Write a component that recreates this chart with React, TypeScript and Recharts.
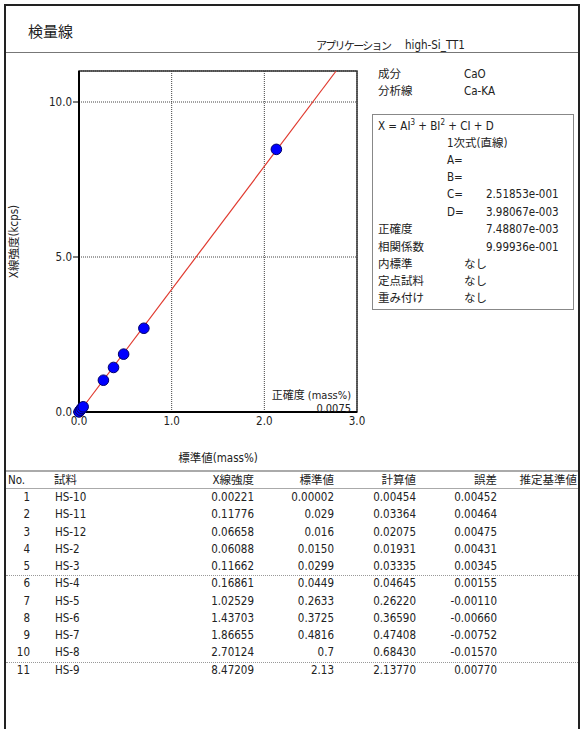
import React from "react";
import {
  ScatterChart,
  Scatter,
  XAxis,
  YAxis,
  CartesianGrid,
  ReferenceLine,
  ReferenceArea,
  Label,
} from "recharts";

// calibration samples (table order)
const sampleNo = ["1", "2", "3", "4", "5", "6", "7", "8", "9", "10", "11"];
const sampleNames = ["HS-10", "HS-11", "HS-12", "HS-2", "HS-3", "HS-4", "HS-5", "HS-6", "HS-7", "HS-8", "HS-9"];
const intensity = [0.00221, 0.11776, 0.06658, 0.06088, 0.11662, 0.16861, 1.02529, 1.43703, 1.86655, 2.70124, 8.47209];
const intensityText = ["0.00221", "0.11776", "0.06658", "0.06088", "0.11662", "0.16861", "1.02529", "1.43703", "1.86655", "2.70124", "8.47209"];
const standard = [0.00002, 0.029, 0.016, 0.015, 0.0299, 0.0449, 0.2633, 0.3725, 0.4816, 0.7, 2.13];
const standardText = ["0.00002", "0.029", "0.016", "0.0150", "0.0299", "0.0449", "0.2633", "0.3725", "0.4816", "0.7", "2.13"];
const calcText = ["0.00454", "0.03364", "0.02075", "0.01931", "0.03335", "0.04645", "0.26220", "0.36590", "0.47408", "0.68430", "2.13770"];
const errorText = ["0.00452", "0.00464", "0.00475", "0.00431", "0.00345", "0.00155", "-0.00110", "-0.00660", "-0.00752", "-0.01570", "0.00770"];

// X = C*I + D
const coefC = 0.251853;
const coefD = 0.00398067;

const xTicks = [0, 1, 2, 3];
const yTicks = [0, 5, 10];
const yMax = 11;

const points = standard.map((s, i) => ({ x: s, y: intensity[i] }));

const FONT = '"Liberation Sans Narrow", "DejaVu Sans Condensed", "Noto Sans CJK JP", sans-serif';

function T({ x, y, children, right, size = 11.5, color = "#222", ls }: any) {
  return (
    <div
      style={{
        position: "absolute",
        left: x,
        top: y,
        transform: right ? "translate(-100%, -50%)" : "translate(0, -50%)",
        whiteSpace: "nowrap",
        fontSize: size,
        lineHeight: 1,
        letterSpacing: ls,
        color,
      }}
    >
      {children}
    </div>
  );
}

function Dot(props: any) {
  const { cx, cy } = props;
  return <circle cx={cx} cy={cy} r={5.3} fill="#0000ff" stroke="#00006a" strokeWidth={1} />;
}

const cols = [
  { head: "X線強度", x: 254, vals: intensityText },
  { head: "標準値", x: 334, vals: standardText },
  { head: "計算値", x: 416, vals: calcText },
  { head: "誤差", x: 497, vals: errorText },
];

export default function App() {
  const rowY = (i: number) => 498 + i * 17.25;
  return (
    <div
      style={{
        position: "absolute",
        left: 0,
        top: 0,
        width: 583,
        height: 729,
        overflow: "hidden",
        background: "#fff",
        fontFamily: FONT,
      }}
    >
      <ScatterChart
        width={583}
        height={729}
        margin={{ top: 71, right: 226, bottom: 287, left: 39 }}
        style={{ position: "absolute", left: 0, top: 0 }}
      >
        <CartesianGrid stroke="#444" strokeDasharray="1 1" />
        <ReferenceArea x1={0} x2={3} y1={0} y2={yMax} fill="none" stroke="#333" strokeWidth={1.5} />
        <XAxis
          type="number"
          dataKey="x"
          domain={[0, 3]}
          ticks={xTicks}
          tickFormatter={(v: number) => v.toFixed(1)}
          tickLine={false}
          tickSize={4}
          tickMargin={1}
          height={30}
          axisLine={{ stroke: "#000", strokeWidth: 2 }}
          tick={{ fill: "#222", fontSize: 11.5, fontFamily: FONT }}
        >
          <Label value="標準値(mass%)" position="bottom" offset={12} style={{ fontSize: 11.5, fill: "#222", fontFamily: FONT }} />
        </XAxis>
        <YAxis
          type="number"
          dataKey="y"
          domain={[0, yMax]}
          ticks={yTicks}
          tickFormatter={(v: number) => v.toFixed(1)}
          width={40}
          tickSize={6}
          tickMargin={1}
          tickLine={{ stroke: "#000" }}
          axisLine={{ stroke: "#000", strokeWidth: 2 }}
          tick={{ fill: "#222", fontSize: 11.5, fontFamily: FONT }}
        >
          <Label
            value="X線強度(kcps)"
            angle={-90}
            position="left"
            offset={25}
            style={{ textAnchor: "middle", fontSize: 11.5, fill: "#222", fontFamily: FONT }}
          />
        </YAxis>
        <ReferenceLine
          segment={[
            { x: coefD, y: 0 },
            { x: coefC * yMax + coefD, y: yMax },
          ]}
          stroke="#e0392e"
          strokeWidth={1.2}
        />
        <Scatter data={points} shape={<Dot />} isAnimationActive={false} />
      </ScatterChart>

      {/* frame */}
      <div style={{ position: "absolute", left: 4, top: 4, width: 572, height: 760, border: "2px solid #222" }} />
      <div style={{ position: "absolute", left: 6, top: 52, width: 572, height: 1, background: "#777" }} />
      <div style={{ position: "absolute", left: 6, top: 470, width: 572, height: 2, background: "#aaa" }} />
      <div style={{ position: "absolute", left: 6, top: 488, width: 572, height: 1, background: "#aaa" }} />
      <div style={{ position: "absolute", left: 6, top: 575, width: 572, borderTop: "1px dotted #999" }} />
      <div style={{ position: "absolute", left: 6, top: 662, width: 572, borderTop: "1px dotted #999" }} />

      <T x={28} y={32} size={15}>検量線</T>
      <T x={316} y={46} size={11} ls={-1.7}>アプリケーション</T>
      <T x={405} y={46}>high-Si_TT1</T>

      <T x={351} y={395} right size={11}>正確度 (mass%)</T>
      <T x={351} y={407.5} right size={11}>0.0075</T>

      {/* info panel */}
      <T x={378} y={75}>成分</T>
      <T x={464} y={75}>CaO</T>
      <T x={378} y={92}>分析線</T>
      <T x={464} y={92}>Ca-KA</T>
      <div style={{ position: "absolute", left: 372, top: 114, width: 200, height: 194, border: "1px solid #888" }} />
      <T x={378} y={126}>
        X = AI<sup style={{ fontSize: 8 }}>3</sup> + BI<sup style={{ fontSize: 8 }}>2</sup> + CI + D
      </T>
      <T x={447} y={144}>1次式(直線)</T>
      <T x={447} y={161}>A=</T>
      <T x={447} y={178}>B=</T>
      <T x={447} y={195}>C=</T>
      <T x={486} y={195}>2.51853e-001</T>
      <T x={447} y={213}>D=</T>
      <T x={486} y={213}>3.98067e-003</T>
      <T x={378} y={230}>正確度</T>
      <T x={486} y={230}>7.48807e-003</T>
      <T x={378} y={248}>相関係数</T>
      <T x={486} y={248}>9.99936e-001</T>
      <T x={378} y={265}>内標準</T>
      <T x={464} y={265}>なし</T>
      <T x={378} y={282}>定点試料</T>
      <T x={464} y={282}>なし</T>
      <T x={378} y={299}>重み付け</T>
      <T x={464} y={299}>なし</T>

      {/* table */}
      <T x={8} y={481}>No.</T>
      <T x={54} y={481}>試料</T>
      {cols.map((c) => (
        <T key={c.head} x={c.x} y={481} right>{c.head}</T>
      ))}
      <T x={577} y={481} right>推定基準値</T>
      {sampleNo.map((n, i) => (
        <React.Fragment key={n}>
          <T x={30} y={rowY(i)} right>{n}</T>
          <T x={55} y={rowY(i)}>{sampleNames[i]}</T>
          {cols.map((c) => (
            <T key={c.head} x={c.x} y={rowY(i)} right>{c.vals[i]}</T>
          ))}
        </React.Fragment>
      ))}
    </div>
  );
}
